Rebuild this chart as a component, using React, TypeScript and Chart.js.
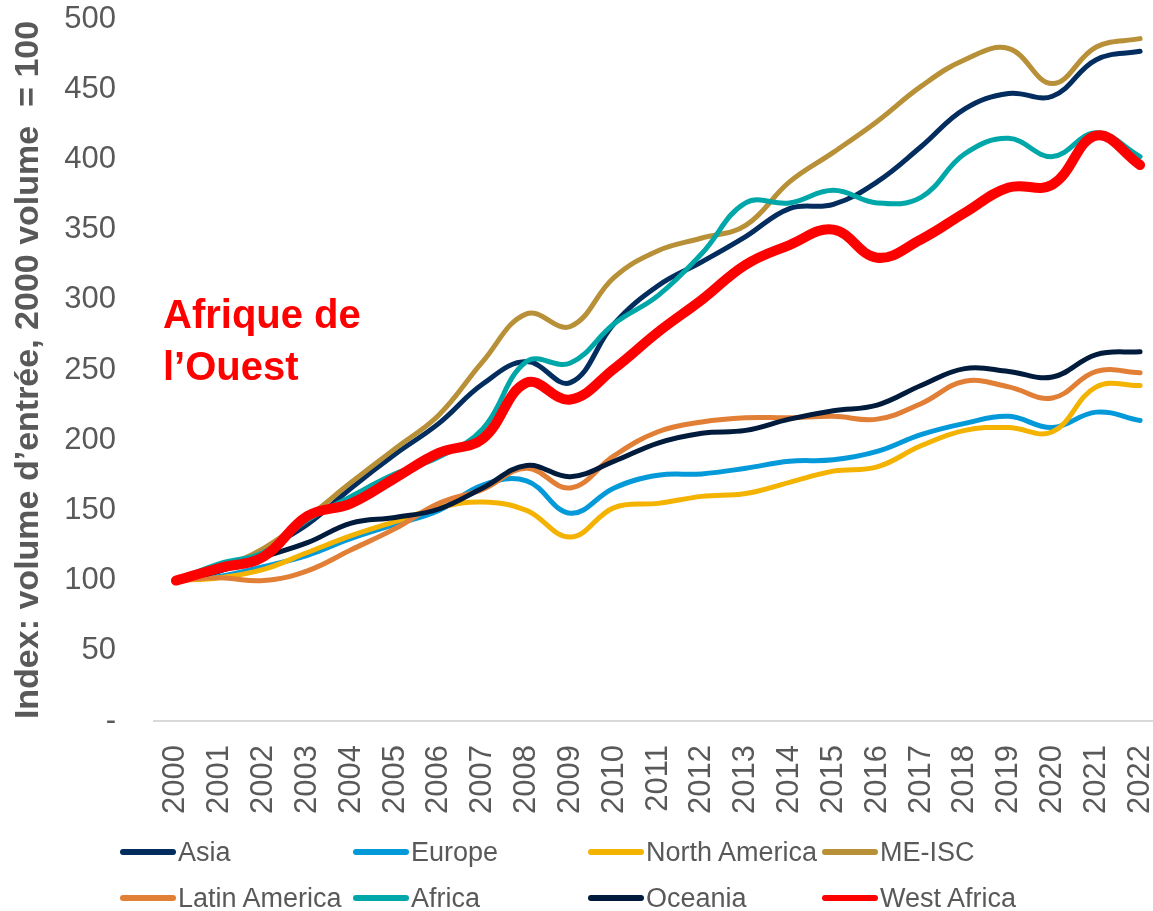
import React, { useEffect, useRef } from "react";
import { Chart, registerables } from "chart.js";

Chart.register(...registerables);

const years = ["2000","2001","2002","2003","2004","2005","2006","2007","2008","2009","2010","2011","2012","2013","2014","2015","2016","2017","2018","2019","2020","2021","2022"];

const asia = [100,107,122,140,166,190,212,240,256,241,283,310,327,345,365,368,384,409,436,447,445,471,477];
const europe = [100,103,110,118,130,140,150,168,171,148,166,175,176,180,185,186,192,204,212,217,209,220,214];
const northAmerica = [100,102,108,120,132,142,152,156,150,131,152,155,160,162,170,178,181,196,207,209,206,238,239];
const meIsc = [100,109,123,145,170,194,218,256,290,281,316,335,344,353,384,405,427,452,471,479,454,480,486];
const latinAmerica = [100,102,100,107,122,137,155,165,180,166,189,206,213,216,216,217,215,226,242,238,230,249,248];
const africa = [100,112,120,143,160,176,188,208,256,255,283,303,333,369,369,378,369,373,404,415,402,419,402];
const oceania = [100,107,117,127,141,145,151,166,182,174,185,198,205,207,215,221,225,239,251,249,245,261,263];
const westAfrica = [100,109,117,146,155,173,191,201,241,229,251,277,300,325,339,350,330,343,362,380,382,417,396];

const seriesNames = ["Asia","Europe","North America","ME-ISC","Latin America","Africa","Oceania","West Africa"];
const seriesData = [asia, europe, northAmerica, meIsc, latinAmerica, africa, oceania, westAfrica];
const seriesColors = ["#022D5E","#0499D9","#F3B300","#B89038","#E27F36","#00A7A8","#001B3C","#FF0000"];
const seriesWidths = [5,5,5,5,5,5,5,10];

const yTicks = [0,50,100,150,200,250,300,350,400,450,500];

const FONT = '"Liberation Sans", Arial, sans-serif';
const GREY = "#595959";

export default function App() {
  const ref = useRef<HTMLCanvasElement | null>(null);

  useEffect(() => {
    if (!ref.current) return;
    const chart = new Chart(ref.current, {
      type: "line",
      data: {
        labels: years,
        datasets: seriesNames.map((name, i) => ({
          label: name,
          data: seriesData[i],
          borderColor: seriesColors[i],
          backgroundColor: seriesColors[i],
          borderWidth: seriesWidths[i],
          pointRadius: 0,
          pointHoverRadius: 0,
          pointBorderWidth: 0,
          tension: 0.4,
          fill: false,
          borderCapStyle: "round" as const,
          borderJoinStyle: "round" as const,
          order: seriesNames.length - i,
        })),
      },
      options: {
        animation: false,
        responsive: false,
        devicePixelRatio: 1,
        layout: { autoPadding: false, padding: { left: 0, top: 19, right: 8, bottom: 97 } },
        plugins: {
          legend: { display: false },
          tooltip: { enabled: false },
        },
        scales: {
          x: {
            type: "category",
            offset: true,
            grid: { display: false, drawTicks: false, tickLength: 0 },
            border: { display: true, color: "#D9D9D9", width: 2 },
            ticks: {
              autoSkip: false,
              maxRotation: 90,
              minRotation: 90,
              padding: 24,
              color: GREY,
              font: { family: FONT, size: 31 },
            },
            afterFit: (s: any) => {
              s.height = 93;
              s.paddingLeft = 0;
              s.paddingRight = 0;
            },
          },
          y: {
            type: "linear",
            min: 0,
            max: 500,
            afterBuildTicks: (scale: any) => {
              scale.ticks = yTicks.map((v) => ({ value: v }));
            },
            afterFit: (s: any) => {
              s.width = 154;
              s.paddingTop = 0;
              s.paddingBottom = 0;
            },
            grid: { display: false, drawTicks: false, tickLength: 0 },
            border: { display: false },
            ticks: {
              padding: 38,
              color: GREY,
              font: { family: FONT, size: 31 },
              callback: (v: any) => (Number(v) === 0 ? "-" : String(v)),
            },
            title: {
              display: true,
              text: "Index: volume d’entrée, 2000 volume  = 100",
              color: GREY,
              font: { family: FONT, size: 34, weight: "bold" },
              padding: { top: 8, bottom: 16 },
            },
          },
        },
      },
    });
    return () => chart.destroy();
  }, []);

  const legendCols = [120, 353, 588, 822];
  const legendRows = [837, 883];

  return (
    <div style={{ position: "fixed", left: 0, top: 0, width: 1153, height: 911, overflow: "hidden", background: "#fff", fontFamily: FONT }}>
      <canvas ref={ref} width={1170} height={911} style={{ position: "absolute", left: 0, top: 0, width: 1170, height: 911 }} />
      <div style={{ position: "absolute", left: 163, top: 288, color: "#FF0000", fontWeight: "bold", fontSize: 40, lineHeight: "52px", whiteSpace: "nowrap" }}>
        Afrique de<br />l’Ouest
      </div>
      {seriesNames.map((name, i) => (
        <div key={name} style={{ position: "absolute", left: legendCols[i % 4], top: legendRows[Math.floor(i / 4)], height: 30, display: "flex", alignItems: "center", whiteSpace: "nowrap" }}>
          <span style={{ display: "inline-block", width: 56, height: 6, borderRadius: 3, background: seriesColors[i], marginRight: 2 }} />
          <span style={{ fontSize: 27, lineHeight: "30px", color: GREY }}>{name}</span>
        </div>
      ))}
    </div>
  );
}
